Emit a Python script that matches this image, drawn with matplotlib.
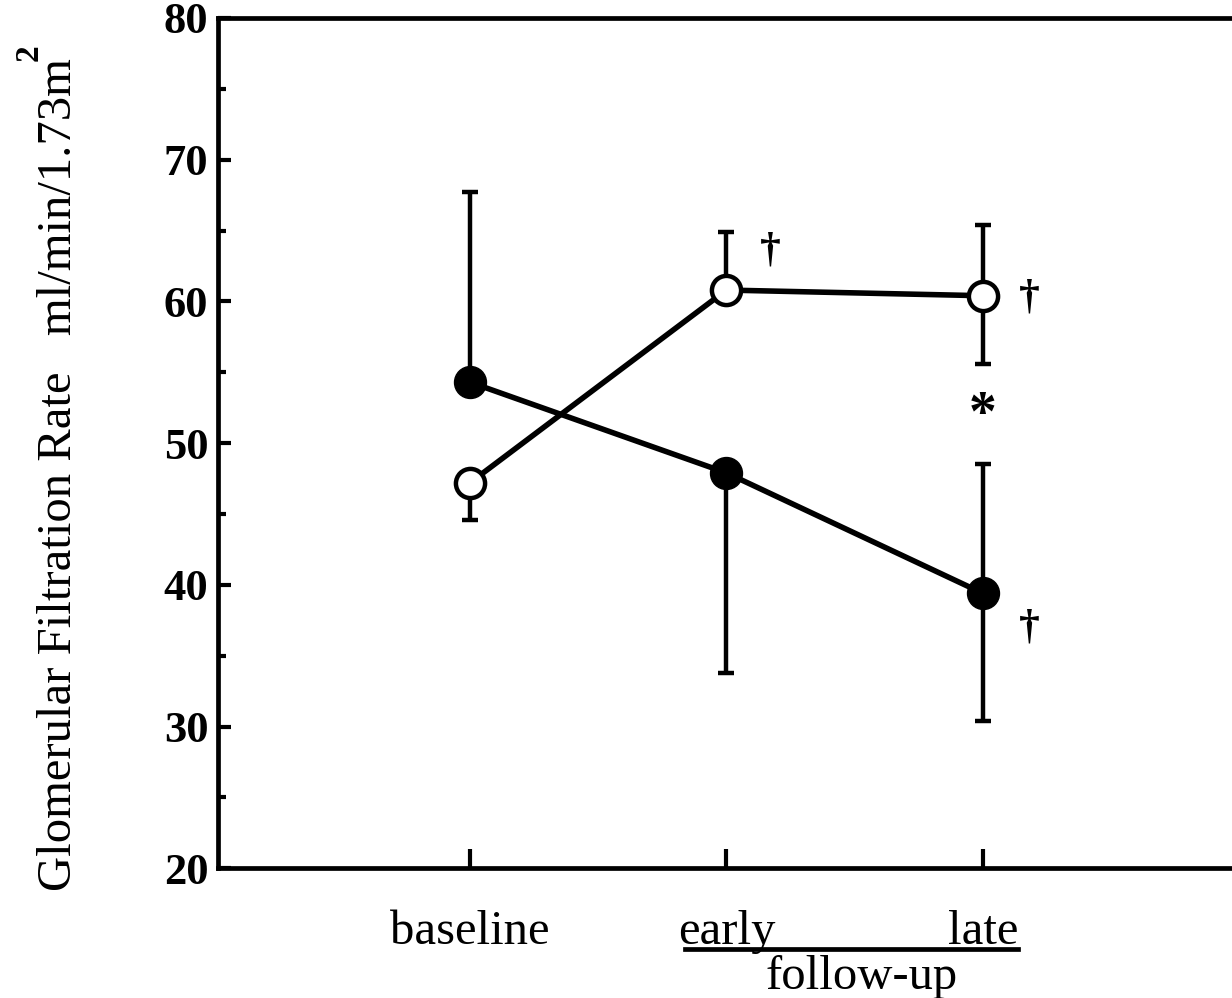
import matplotlib
matplotlib.use("Agg")
import matplotlib.pyplot as plt
import numpy as np

# Data
x_pos = [1, 2, 3]
x_labels = ["baseline", "early", "late"]

closed_mean = [54.3, 47.9, 39.4]
closed_err_up = [13.4, 0.0, 9.1]      # upper bar lengths
closed_err_dn = [0.0, 14.1, 9.0]      # lower bar lengths

open_mean = [47.2, 60.8, 60.4]
open_err_up = [0.0, 4.1, 5.0]
open_err_dn = [2.6, 0.0, 4.8]

# significance marks: (x, y, symbol)
marks = [(2.17, 63.6, "\u2020"), (3.18, 60.3, "\u2020"), (3.18, 37.0, "\u2020"), (3.0, 51.9, "*")]

plt.rcParams["font.family"] = ["Liberation Serif", "DejaVu Serif"]

fig = plt.figure(figsize=(12.32, 9.98), dpi=100)
ax = fig.add_axes([0.177, 0.130, 0.829, 0.852])

lw = 4.0
ax.errorbar(x_pos, closed_mean, yerr=[closed_err_dn, closed_err_up], fmt="-o", color="black",
            lw=lw, ms=23, mfc="black", mec="black", elinewidth=3.2, capsize=6, capthick=3.2, zorder=3)
ax.errorbar(x_pos, open_mean, yerr=[open_err_dn, open_err_up], fmt="-o", color="black",
            lw=lw, ms=21, mfc="white", mec="black", mew=3.2, elinewidth=3.2, capsize=6, capthick=3.2, zorder=4)

for mx, my, s in marks:
    if s == "*":
        ax.text(mx, my, s, ha="center", va="center", fontsize=40, fontweight="bold")
    else:
        ax.text(mx, my, s, ha="center", va="center", fontsize=30, fontweight="bold")

ax.set_xlim(0.018, 4.0)
ax.set_ylim(20, 80)
ax.set_yticks(np.arange(20, 81, 10))
ax.set_yticks(np.arange(25, 80, 10), minor=True)
ax.set_xticks(x_pos)
ax.set_xticklabels(x_labels, fontsize=35)
for lab in ax.get_yticklabels():
    lab.set_fontweight("bold")
    lab.set_fontsize(32)

ax.tick_params(axis="y", which="major", direction="in", length=9, width=3, pad=7)
ax.tick_params(axis="y", which="minor", direction="in", length=6, width=3)
ax.tick_params(axis="x", which="major", direction="in", length=14, width=3, pad=30)

for side in ["left", "top", "bottom"]:
    ax.spines[side].set_linewidth(3.4)
ax.spines["right"].set_visible(False)

# follow-up bracket under early/late
fig.add_artist(plt.Line2D([685 / 1232, 1018 / 1232], [1 - 949 / 998, 1 - 949 / 998],
                          color="black", lw=3.4))
fig.text(862 / 1232, 1 - 977 / 998, "follow-up", ha="center", va="center", fontsize=35)

# y label, with a raised bold 2 placed just after it
ylab = fig.text(0.048, 1 - 475 / 998, "Glomerular Filtration Rate   ml/min/1.73m",
                rotation=90, ha="center", va="center", fontsize=35)
fig.canvas.draw()
bb = ylab.get_window_extent().transformed(fig.transFigure.inverted())
fig.text(bb.x0 + 0.006, bb.y1 - 0.002, "2", rotation=90, ha="right", va="bottom",
         fontsize=24, fontweight="bold")

fig.savefig("out.png", dpi=100)
